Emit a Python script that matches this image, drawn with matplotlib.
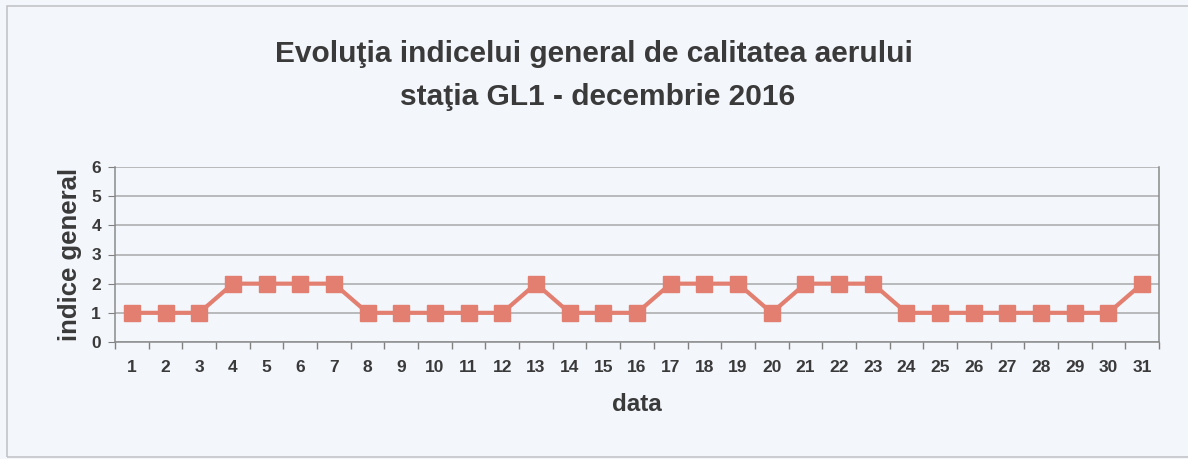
import matplotlib
matplotlib.use('Agg')
import matplotlib.pyplot as plt
from matplotlib.patches import Rectangle
import numpy as np

zile = list(range(1, 32))
indice = [1, 1, 1, 2, 2, 2, 2, 1, 1, 1, 1, 1, 2, 1, 1, 1,
          2, 2, 2, 1, 2, 2, 2, 1, 1, 1, 1, 1, 1, 1, 2]
yticks = [0, 1, 2, 3, 4, 5, 6]

titlu1 = 'Evoluţia indicelui general de calitatea aerului'
titlu2 = 'staţia GL1 - decembrie 2016'

bg = '#f3f6fb'
txt = '#3a3a3a'
plt.rcParams['font.family'] = ['Liberation Sans', 'DejaVu Sans']

fig = plt.figure(figsize=(11.88, 4.59), dpi=100, facecolor=bg)
# chenarul exterior al graficului
fig.patches.append(Rectangle((7 / 1188, 1 - 457 / 459), 1.05, 451 / 459,
                             transform=fig.transFigure, fill=False,
                             edgecolor='#c4c4c8', linewidth=1.2))

ax = fig.add_axes([115 / 1188, 1 - 342 / 459, 1044 / 1188, 175 / 459])
ax.set_facecolor(bg)

ax.plot(zile, indice, color='#e27f70', linewidth=3, marker='s',
        markersize=12, markerfacecolor='#e27f70', markeredgecolor='#e27f70')

ax.set_xlim(0.5, 31.5)
ax.set_ylim(0, 6)
ax.set_yticks(yticks)
ax.set_xticks(zile)
ax.set_xticks(np.arange(0.5, 32, 1), minor=True)
ax.tick_params(axis='x', which='major', length=0, pad=13,
               labelsize=12.5, labelcolor=txt)
ax.tick_params(axis='x', which='minor', length=5, color='#808080', width=1)
ax.tick_params(axis='y', length=5, color='#808080', labelsize=12.5,
               labelcolor=txt, pad=5)
for lbl in ax.get_xticklabels() + ax.get_yticklabels():
    lbl.set_fontweight('bold')

ax.yaxis.grid(True, color='#a8a8a8', linewidth=1.1)
ax.set_axisbelow(True)
ax.spines['top'].set_visible(False)
for side in ['left', 'right', 'bottom']:
    ax.spines[side].set_color('#8a8a8a')
    ax.spines[side].set_linewidth(1.1)

ax.set_ylabel('indice general', fontsize=18.5, fontweight='bold', color=txt,
              labelpad=7)
ax.set_xlabel('data', fontsize=17.5, fontweight='bold', color=txt,
              labelpad=13)

fig.text(0.5, 1 - 54 / 459, titlu1, ha='center', va='center', fontsize=21.5,
         fontweight='bold', color=txt)
fig.text(0.503, 1 - 97 / 459, titlu2, ha='center', va='center', fontsize=21.5,
         fontweight='bold', color=txt)

fig.savefig('out.png', dpi=100, facecolor=bg)
